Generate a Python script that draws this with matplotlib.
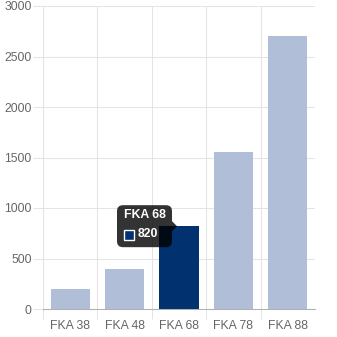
import matplotlib
matplotlib.use("Agg")
import matplotlib.pyplot as plt
import matplotlib.transforms as mtransforms
from matplotlib.patches import FancyBboxPatch, Polygon, Rectangle

categories = ["FKA 38", "FKA 48", "FKA 68", "FKA 78", "FKA 88"]
values = [200, 400, 820, 1550, 2700]
highlight = "FKA 68"
y_ticks = [0, 500, 1000, 1500, 2000, 2500, 3000]

LIGHT = "#b0bfd7"
DARK = "#02316f"
GRID = "#e4e4e4"
TEXT = "#666666"

plt.rcParams["font.family"] = ["Liberation Sans", "DejaVu Sans"]

W = H = 337
fig = plt.figure(figsize=(W / 100, H / 100), dpi=100)
ax = fig.add_axes([43 / W, (H - 309) / H, (315 - 43) / W, (309 - 6) / H])

x = list(range(len(categories)))
colors = [DARK if c == highlight else LIGHT for c in categories]
ax.bar(x, values, width=0.72, color=colors, zorder=2)

ax.set_xlim(-0.5, len(categories) - 0.5)
ax.set_ylim(0, 3000)

ax.set_xticks(x)
ax.set_xticklabels(categories)
ax.set_xticks([i - 0.5 for i in x], minor=True)
ax.set_yticks(y_ticks)

ax.tick_params(axis="x", which="major", length=0, pad=8, labelsize=8.8, labelcolor=TEXT)
ax.tick_params(axis="x", which="minor", length=7.2, width=0.75, color=GRID)
ax.tick_params(axis="y", length=7.2, width=0.75, color=GRID, pad=1, labelsize=8.8, labelcolor=TEXT)

ax.grid(axis="y", which="major", color=GRID, lw=0.75, zorder=0)
ax.grid(axis="x", which="minor", color=GRID, lw=0.75, zorder=0)
ax.set_axisbelow(True)

for s in ["top", "right"]:
    ax.spines[s].set_visible(False)
ax.spines["left"].set_color(GRID)
ax.spines["left"].set_linewidth(0.75)
ax.spines["bottom"].set_color("#b0b0b0")
ax.spines["bottom"].set_linewidth(0.75)
ax.spines["bottom"].set_zorder(3)

# tooltip, positioned in pixels around the highlighted bar's top
hi = categories.index(highlight)
px = 0.01  # inches per pixel at dpi 100
tr = fig.dpi_scale_trans + mtransforms.ScaledTranslation(hi, values[hi], ax.transData)
box = FancyBboxPatch((-62 * px, -21 * px), 55 * px, 42 * px,
                     boxstyle=f"round,pad=0,rounding_size={6 * px}",
                     transform=tr, facecolor="black", alpha=0.8, lw=0, zorder=5,
                     clip_on=False)
ax.add_patch(box)
caret = Polygon([(-7 * px, -5 * px), (-2 * px, 0), (-7 * px, 5 * px)], closed=True,
                transform=tr, facecolor="black", alpha=0.8, lw=0, zorder=5, clip_on=False)
ax.add_patch(caret)
ax.text(-55 * px, 11 * px, highlight, transform=tr, color="white", fontsize=8.8,
        fontweight="bold", va="center", ha="left", zorder=6)
ax.add_patch(Rectangle((-55 * px, -13.5 * px), 10 * px, 10 * px, transform=tr,
                       facecolor=DARK, edgecolor="white", lw=1.0, zorder=6, clip_on=False))
ax.text(-41 * px, -8 * px, f"{values[hi]}", transform=tr, color="white", fontsize=8.8,
        fontweight="bold", va="center", ha="left", zorder=6)

fig.savefig("out.png", dpi=100)
